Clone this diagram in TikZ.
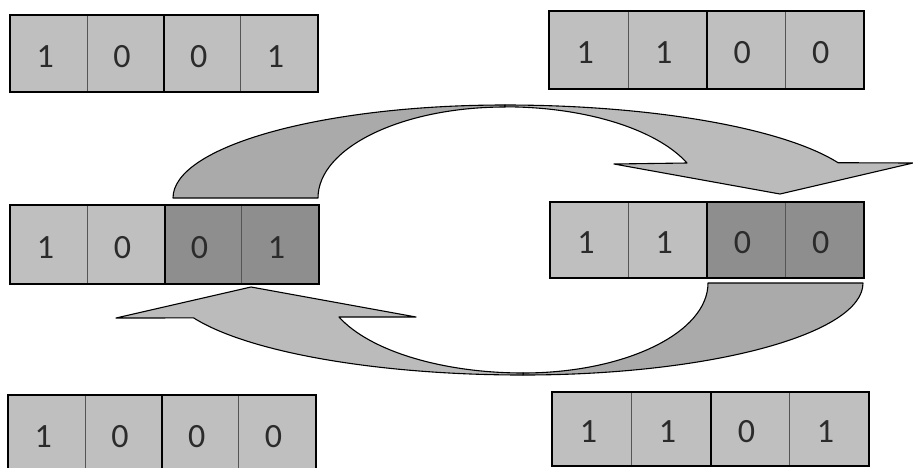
\documentclass[tikz,border=0pt]{standalone}
\usepackage{fontspec}
\setmainfont{Carlito}
\definecolor{celllight}{HTML}{BFBFBF}
\definecolor{celldark}{HTML}{8E8E8E}
\definecolor{bandback}{HTML}{AAAAAA}
\definecolor{bandfront}{HTML}{BBBBBB}
\definecolor{rule}{HTML}{555555}
\definecolor{digit}{HTML}{2B2B2B}
\usepackage{tikz}

\tikzset{
  bit/.style={draw=rule, line width=0.8pt, anchor=north west, inner sep=0pt,
    text height=28pt, text depth=0pt, font=\fontsize{34}{40}\selectfont, text=digit},
  frame/.style={draw=black, line width=2.6pt},
  band/.style={draw=black, line width=1.1pt, line join=round},
}

\begin{document}
\begin{tikzpicture}[x=1pt, y=-1pt]
  \clip (0,0) rectangle (913,467);
  \fill[white] (0,0) rectangle (913,467);

  \draw[band, fill=bandback] (173,198) arc[start angle=180, end angle=270, x radius=332, y radius=93]
    -- (505,107) arc[start angle=270, end angle=180, x radius=187, y radius=91] -- cycle;
  \draw[band, fill=bandfront] (505,105) arc[start angle=270, end angle=337.7, x radius=360, y radius=93]
    -- (913,163) -- (780,194) -- (614,164) -- (687,163)
    arc[start angle=337.5, end angle=270, x radius=197, y radius=91] -- cycle;

  \draw[band, fill=bandback] (863,283) arc[start angle=0, end angle=90, x radius=340, y radius=92]
    -- (523,373) arc[start angle=90, end angle=0, x radius=185, y radius=90] -- cycle;
  \draw[band, fill=bandfront] (523,375) arc[start angle=90, end angle=157.7, x radius=356, y radius=92]
    -- (116,318) -- (251,287) -- (416,317) -- (339,317)
    arc[start angle=157.8, end angle=90, x radius=199, y radius=90] -- cycle;

  \foreach \reg/\x/\y/\w/\h/\bits/\half in {
      a/10/15/76.75/76/{1,0,0,1}/celllight,
      b/549/11/78.5/77/{1,1,0,0}/celllight,
      c/10/205/77/78/{1,0,0,1}/celldark,
      d/550/202/78.25/75/{1,1,0,0}/celldark,
      e/8/395/76.75/77/{1,0,0,0}/celllight,
      f/552/392/79/73/{1,1,0,1}/celllight} {
    \foreach \b [count=\i] in \bits {
      \ifnum\i>2 \edef\cellfill{\half}\else\def\cellfill{celllight}\fi
      \node[bit, fill=\cellfill, minimum width=\w pt, minimum height=\h pt]
        (\reg\i) at ({\x+(\i-1)*\w}, \y) {\hspace*{-7pt}\b};
    }
    \draw[frame] (\reg1.north west) rectangle (\reg4.south east);
    \draw[frame, line width=2.2pt] (\reg2.north east) -- (\reg2.south east);
  }
\end{tikzpicture}
\end{document}
